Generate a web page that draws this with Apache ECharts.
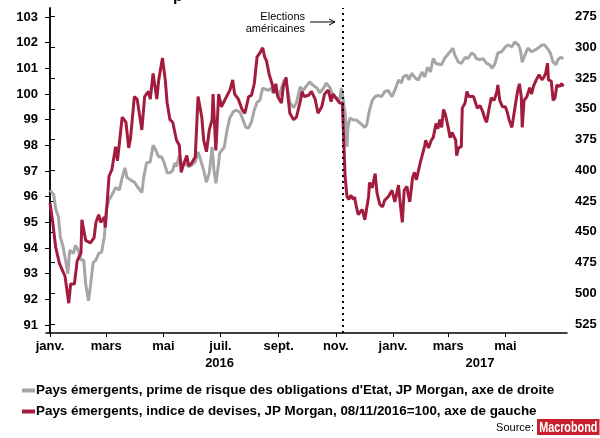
<!DOCTYPE html>
<html>
<head>
<meta charset="utf-8">
<script src="https://cdn.jsdelivr.net/npm/echarts@6/dist/echarts.min.js"></script>
<style>
  html, body { margin: 0; padding: 0; background: #fff; }
  #main { width: 600px; height: 438px; }
</style>
</head>
<body>
<div id="main"></div>
<script>
// jours depuis le 1er janvier 2016
var monthDays = [0, 60, 121, 182, 244, 305, 366, 425, 486];
var monthLabels = ['janv.', 'mars', 'mai', 'juil.', 'sept.', 'nov.', 'janv.', 'mars', 'mai'];
var yearDays = [181, 459];
var yearLabels = ['2016', '2017'];
var leftTicks = [91, 92, 93, 94, 95, 96, 97, 98, 99, 100, 101, 102, 103];
var rightTicks = [275, 300, 325, 350, 375, 400, 425, 450, 475, 500, 525];
var electionDay = 312;

var grayName = "Pays émergents, prime de risque des obligations d'Etat, JP Morgan, axe de droite";
var redName = 'Pays émergents, indice de devises, JP Morgan, 08/11/2016=100, axe de gauche';

// [jour, valeur] - prime de risque (axe de droite)
var grayPoints = [[0,416],[4,420],[6,431],[9,438],[11,454],[14,462.5],[17,475],[19,484],[21,465],[25,467.5],[27,461],[30,465],[33,473],[36,473],[38,492],[41,506],[43,495],[46,475],[49,473],[52,467.5],[55,466.5],[58,454],[60,432],[63,424],[66,420],[70,414],[74,416],[77,406],[80,398],[82,405.5],[86,408],[90,409.5],[92,408],[94,414],[98,418],[100,405.5],[103,394],[107,393],[110,379.5],[112,382],[116,389],[119,389],[122,394],[125,402],[128,402],[131,400],[133,394],[135,397],[138,387.5],[141,397],[144,394],[148,397],[151,396],[155,393],[158,385],[161,392],[164,400],[167,409.5],[170,402],[173,381],[175,400],[177,410.5],[180,394],[181,386],[186,381],[189,367],[192,357],[196,352],[199,351],[203,353],[206,359],[209,365],[212,365.5],[215,360.5],[218,351],[221,344.5],[224,343],[227,333],[229,333],[233,335],[236,333],[238,337],[241,336],[244,340],[247,333],[250,326.5],[253,332],[256,345],[260,349],[263,345],[267,332],[270,335],[274,331],[277,328],[281,331],[285,333],[288,337],[292,333],[295,329],[299,333],[302,339],[306,341],[309,343],[311,333],[313,332],[315,353.5],[317,381],[318,365],[320,357.5],[324,359],[327,359],[331,361.5],[336,365],[338,363],[341,351],[344,343],[347,340],[350,339],[354,340],[357,336],[361,335],[365,340],[368,335],[372,326.5],[375,329],[377,324],[381,322.5],[383,326.5],[386,321],[390,325],[393,326.5],[397,320],[400,324],[403,316],[406,320],[409,309],[412,313],[414,312],[418,314],[421,309],[423,309],[427,303.5],[430,300.5],[432,306],[436,312],[439,313],[443,308],[446,309],[450,304.5],[453,306],[455,309],[459,310],[462,309],[466,313],[469,314],[472,317],[475,313],[478,304.5],[482,303.5],[486,299.5],[489,298],[493,299.5],[496,295.5],[500,298],[502,302],[504,312],[507,306],[510,300.5],[514,303.5],[518,302],[521,300.5],[525,298],[528,298],[532,302],[534,304.5],[537,312],[540,314],[542,310],[545,308],[548,309]];

// [jour, valeur] - indice de devises (axe de gauche)
var redPoints = [[0,95.75],[3,94.97],[6,94.04],[10,93.4],[13,93.15],[16,92.9],[20,91.85],[22,92.6],[26,92.6],[29,93.5],[33,93.8],[34,95.1],[38,94.3],[43,94.2],[47,94.4],[49,95.0],[52,95.3],[54,95.0],[58,95.2],[59,94.8],[63,96.8],[66,97.05],[70,97.95],[72,97.4],[77,99.1],[81,98.9],[84,97.9],[86,98.3],[90,99.9],[93,99.8],[98,98.6],[101,99.9],[105,100.1],[107,99.8],[110,100.8],[114,99.8],[116,100.55],[120,101.4],[123,100.55],[125,99.65],[128,99.0],[131,98.9],[133,98.9],[135,98.2],[138,98.0],[140,96.95],[142,97.2],[146,97.6],[148,97.2],[151,97.3],[155,97.55],[158,99.9],[162,99.1],[164,98.2],[167,97.75],[170,98.6],[173,99.0],[174,100.0],[177,97.8],[180,100.0],[183,99.5],[187,99.8],[192,100.15],[195,100.55],[197,100.0],[201,99.8],[205,99.4],[208,99.25],[212,99.9],[215,99.95],[218,100.4],[221,101.45],[224,101.6],[227,101.8],[229,101.45],[231,101.3],[234,100.75],[237,100.4],[239,100.05],[241,100.4],[243,99.9],[247,99.65],[249,100.3],[252,100.65],[254,99.9],[256,99.25],[260,99.0],[263,99.1],[267,99.7],[269,100.1],[271,99.9],[276,99.95],[279,100.1],[283,99.8],[286,99.25],[290,99.5],[293,100.0],[297,100.15],[300,99.7],[302,100.0],[306,99.8],[309,99.65],[312,99.65],[313,98.7],[315,96.75],[317,96.0],[319,95.9],[321,96.05],[324,95.9],[325,96.0],[327,95.6],[329,95.3],[333,95.5],[334,95.4],[336,95.1],[340,96.0],[341,96.55],[344,96.35],[347,96.9],[349,96.15],[352,95.7],[355,95.6],[357,95.85],[361,96.0],[365,96.25],[368,95.8],[372,96.45],[373,96.0],[376,95.0],[378,96.25],[381,96.4],[382,96.15],[384,95.8],[387,96.75],[389,96.95],[391,96.65],[395,97.3],[397,97.35],[400,98.0],[401,98.2],[404,97.9],[407,98.2],[409,98.3],[412,98.85],[414,98.65],[416,99.0],[418,98.7],[420,99.4],[422,99.2],[425,98.7],[427,98.3],[429,98.5],[431,98.5],[433,98.2],[434,97.6],[436,97.9],[439,97.95],[440,99.45],[443,99.65],[445,100.1],[447,99.9],[449,99.95],[452,99.9],[454,99.85],[456,99.45],[459,99.55],[462,99.3],[464,99.05],[466,98.9],[469,99.5],[471,99.85],[474,99.75],[477,100.1],[478,100.35],[480,99.75],[483,99.5],[486,99.5],[488,99.3],[490,99.0],[493,98.7],[494,98.65],[497,99.65],[499,100.1],[501,100.4],[503,99.9],[504,98.7],[506,99.75],[509,99.9],[512,100.25],[514,100.0],[516,100.3],[519,100.55],[522,100.75],[525,100.55],[527,100.65],[529,100.8],[531,101.2],[532,100.55],[535,100.5],[537,99.75],[539,99.85],[541,100.35],[544,100.3],[546,100.4],[548,100.3]];

var FONT = '"Liberation Sans", Arial, sans-serif';
var GRAY = '#a6a6a6';
var RED = '#a31c3d';

var chart = echarts.init(document.getElementById('main'), null, { renderer: 'canvas' });

var labelStyle = { color: '#000', fontFamily: FONT, fontWeight: 'bold', fontSize: 13 };

chart.setOption({
    animation: false,
    grid: { left: 46, right: 33, top: 8, bottom: 105 },
    legend: {
        orient: 'vertical',
        left: 17,
        top: 379,
        icon: 'rect',
        itemWidth: 13,
        itemHeight: 4,
        itemGap: 8,
        selectedMode: false,
        data: [grayName, redName],
        textStyle: { color: '#000', fontFamily: FONT, fontWeight: 'bold', fontSize: 13.4, padding: [0, 0, 0, -4] }
    },
    xAxis: [{
        type: 'value',
        min: -4.3,
        max: 551.8,
        splitLine: { show: false },
        axisLine: { lineStyle: { color: '#000', width: 1.5 } },
        axisTick: { customValues: monthDays, length: 4, lineStyle: { color: '#000' } },
        axisLabel: Object.assign({
            customValues: monthDays,
            margin: 7,
            formatter: function (v) { return monthLabels[monthDays.indexOf(v)]; }
        }, labelStyle)
    }, {
        type: 'value',
        position: 'bottom',
        offset: 17,
        min: -4.3,
        max: 551.8,
        splitLine: { show: false },
        axisLine: { show: false },
        axisTick: { show: false },
        axisLabel: Object.assign({
            customValues: yearDays,
            margin: 7,
            formatter: function (v) { return yearLabels[yearDays.indexOf(v)]; }
        }, labelStyle)
    }],
    yAxis: [{
        type: 'value',
        position: 'left',
        min: 90.69,
        max: 103.35,
        splitLine: { show: false },
        axisLine: { show: true, lineStyle: { color: '#000', width: 1.5 } },
        axisTick: { show: true, customValues: leftTicks, length: 5, lineStyle: { color: '#000' } },
        axisLabel: Object.assign({ customValues: leftTicks, margin: 8 }, labelStyle)
    }, {
        type: 'value',
        position: 'right',
        inverse: true,
        min: 267.9,
        max: 532.3,
        splitLine: { show: false },
        axisLine: { show: true, lineStyle: { color: '#000', width: 1.5 } },
        axisTick: { show: true, customValues: rightTicks, length: 5, lineStyle: { color: '#000' } },
        axisLabel: Object.assign({ customValues: rightTicks, margin: 8 }, labelStyle)
    }],
    series: [{
        name: grayName,
        type: 'line',
        xAxisIndex: 0,
        yAxisIndex: 1,
        showSymbol: false,
        color: GRAY,
        lineStyle: { color: GRAY, width: 3 },
        data: grayPoints
    }, {
        name: redName,
        type: 'line',
        xAxisIndex: 0,
        yAxisIndex: 0,
        showSymbol: false,
        color: RED,
        lineStyle: { color: RED, width: 3 },
        data: redPoints,
        markLine: {
            silent: true,
            symbol: ['none', 'none'],
            label: { show: false },
            lineStyle: { color: '#000', type: [2, 4], width: 2 },
            data: [{ xAxis: electionDay }]
        }
    }],
    graphic: [{
        type: 'text', left: 173, top: -11,
        style: { text: 'p', font: 'bold 16px ' + FONT, fill: '#000' }
    }, {
        type: 'text', x: 305, y: 11,
        style: { text: 'Elections\naméricaines', font: '11px ' + FONT, fill: '#000', align: 'right', lineHeight: 12 }
    }, {
        type: 'line',
        shape: { x1: 310, y1: 22, x2: 335, y2: 22 },
        style: { stroke: '#000', lineWidth: 1 }
    }, {
        type: 'polyline',
        shape: { points: [[329, 19], [335, 22], [329, 25]] },
        style: { stroke: '#000', lineWidth: 1, fill: null }
    }, {
        type: 'text', x: 534, y: 428,
        style: { text: 'Source:', font: '11px ' + FONT, fill: '#000', align: 'right', verticalAlign: 'middle' }
    }, {
        type: 'text', x: 537, y: 419, scaleX: 0.72,
        style: {
            text: 'Macrobond', font: 'bold 15px ' + FONT,
            fill: '#fff', backgroundColor: '#c8202f', padding: [1, 3, 0, 3]
        }
    }]
});
</script>
</body>
</html>
